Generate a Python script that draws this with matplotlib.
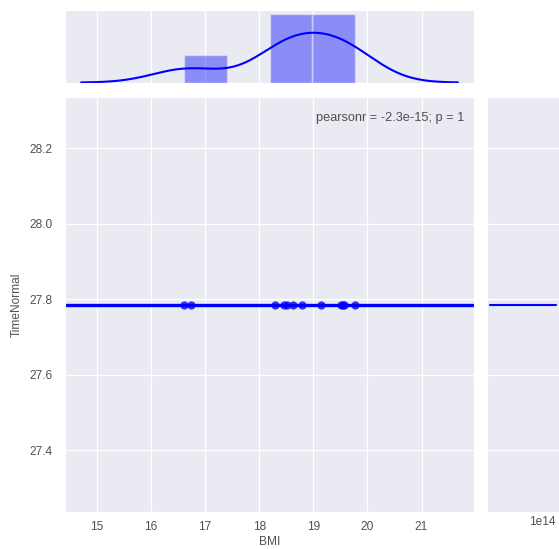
import numpy as np
import matplotlib
matplotlib.use("Agg")
import matplotlib.pyplot as plt
import seaborn as sns

# data
bmi = [16.61, 16.73, 18.29, 18.46, 18.52, 18.63, 18.79, 19.14, 19.52, 19.55, 19.57, 19.77]
time_normal = [27.784] * len(bmi)
y_kde_peak = 2.9e14   # density spike of the constant TimeNormal column
pearson_text = "pearsonr = -2.3e-15; p = 1"
x_ticks = [15, 16, 17, 18, 19, 20, 21]
y_ticks = [27.4, 27.6, 27.8, 28.0, 28.2]

sns.set_style("darkgrid")
plt.rcParams['font.family'] = ['Liberation Sans', 'DejaVu Sans']
plt.rcParams['font.size'] = 8.6
plt.rcParams['grid.linewidth'] = 0.9

txt_col = "#505050"

fig = plt.figure(figsize=(5.59, 5.49), dpi=100)
ax = fig.add_axes([0.1154, 0.0674, 0.7326, 0.7559])
ax_top = fig.add_axes([0.1154, 0.8497, 0.7326, 0.1313], sharex=ax)
ax_right = fig.add_axes([0.8712, 0.0674, 0.13, 0.7559], sharey=ax)

x = np.array(bmi)
y = np.array(time_normal)
xlim = (14.4, 21.97)

# main regression plot
ax.scatter(x, y, color="blue", s=35, alpha=0.8, zorder=3, linewidths=0)
xs = np.array(xlim)
ax.plot(xs, np.full_like(xs, y.mean()), color="blue", lw=2.4, zorder=2)
ax.set_xlim(xlim)
ax.set_ylim(27.237, 28.335)
ax.set_xticks(x_ticks)
ax.set_yticks(y_ticks)
ax.set_xlabel("BMI", color=txt_col, fontsize=8.6, labelpad=2)
ax.set_ylabel("TimeNormal", color=txt_col, fontsize=8.6, labelpad=5)
ax.tick_params(axis="x", colors=txt_col, labelsize=8.6, pad=3)
ax.tick_params(axis="y", colors=txt_col, labelsize=8.6, pad=5)
ax.text(0.977, 0.965, pearson_text, transform=ax.transAxes, ha="right", va="top",
        fontsize=9.2, color=txt_col)

# top marginal: histogram + kde
bins = np.linspace(x.min(), x.max(), 5)
ax_top.hist(x, bins=bins, density=True, color="blue", alpha=0.4)
bw = x.std(ddof=1) * len(x) ** (-1 / 5)
grid = np.linspace(x.min() - 3 * bw, x.max() + 3 * bw, 200)
dens = np.exp(-0.5 * ((grid[:, None] - x[None, :]) / bw) ** 2).sum(1) / (len(x) * bw * np.sqrt(2 * np.pi))
ax_top.plot(grid, dens, color="blue", lw=1.5)
ax_top.set_ylim(0, None)
ax_top.yaxis.grid(False)
plt.setp(ax_top.get_xticklabels(), visible=False)
plt.setp(ax_top.get_yticklabels(), visible=False)

# right marginal: degenerate kde
ax_right.plot([0, y_kde_peak], [y[0], y[0]], color="blue", lw=1.5)
ax_right.xaxis.grid(False)
plt.setp(ax_right.get_xticklabels(), visible=False)
plt.setp(ax_right.get_yticklabels(), visible=False)
ax_right.xaxis.get_offset_text().set_color(txt_col)
ax_right.xaxis.get_offset_text().set_fontsize(8.6)
ax_right.xaxis.get_offset_text().set_x(0.95)

fig.savefig("out.png", dpi=100)
